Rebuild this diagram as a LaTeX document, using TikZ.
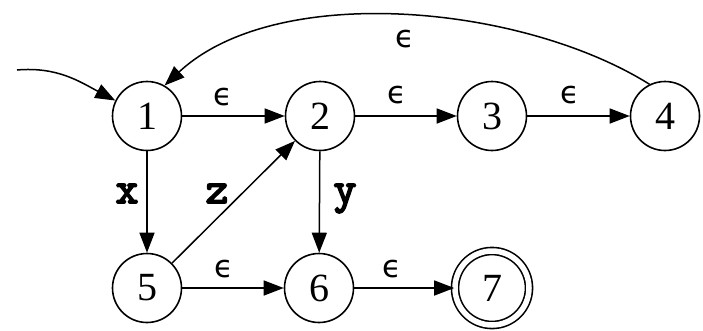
\documentclass[tikz,border=0pt]{standalone}
\usepackage{fontspec}
\setmainfont{Liberation Serif}
\newfontfamily\epsfont{DejaVu Sans}
\newfontfamily\symfont[FakeBold=4]{Latin Modern Mono}
\usetikzlibrary{arrows.meta}
\begin{document}
\begin{tikzpicture}[x=1pt,y=1pt,
  state/.style={circle,draw,line width=1.6pt,minimum size=69pt,inner sep=0pt,
    font=\fontsize{40}{48}\selectfont},
  accept/.style={state,double,double distance=5.5pt,minimum size=74pt},
  edge/.style={line width=1.5pt,-{Triangle[length=20pt,width=15pt]}},
  eps/.style={anchor=base,inner sep=0pt,font=\fontsize{31}{36}\selectfont\epsfont},
  sym/.style={anchor=base,inner sep=0pt,font=\fontsize{44}{48}\selectfont\symfont}]
\useasboundingbox (0,0) rectangle (703,-330);
\node[state] (1) at (147,-116) {1};
\node[state] (2) at (320,-116) {2};
\node[state] (3) at (492,-116) {3};
\node[state] (4) at (665,-116) {4};
\node[state] (5) at (147,-288) {5};
\node[state] (6) at (319,-288) {6};
\node[accept] (7) at (492,-288) {7};
\coordinate (s) at (17,-70);
\draw[edge] (s) to[out=5,in=152] (1.154);
\draw[edge] (1) -- (2);
\draw[edge] (2) -- (3);
\draw[edge] (3) -- (4);
\draw[edge] (4.116) to[out=148,in=43,looseness=0.8] (1.60);
\draw[edge] (1) -- (5);
\draw[edge] (5) -- (2);
\draw[edge] (2) -- (6);
\draw[edge] (5) -- (6);
\draw[edge] (6) -- (7);
\node[eps] (l12) at (223,-105) {ϵ};
\node[eps] (l23) at (397,-103) {ϵ};
\node[eps] (l34) at (570,-103) {ϵ};
\node[eps] (l41) at (405,-47) {ϵ};
\node[eps] (l56) at (224,-277) {ϵ};
\node[eps] (l67) at (392,-277) {ϵ};
\node[sym] (l15) at (127,-203) {x};
\node[sym] (l52) at (217,-203) {z};
\node[sym] (l26) at (345,-203) {y};
\end{tikzpicture}
\end{document}
